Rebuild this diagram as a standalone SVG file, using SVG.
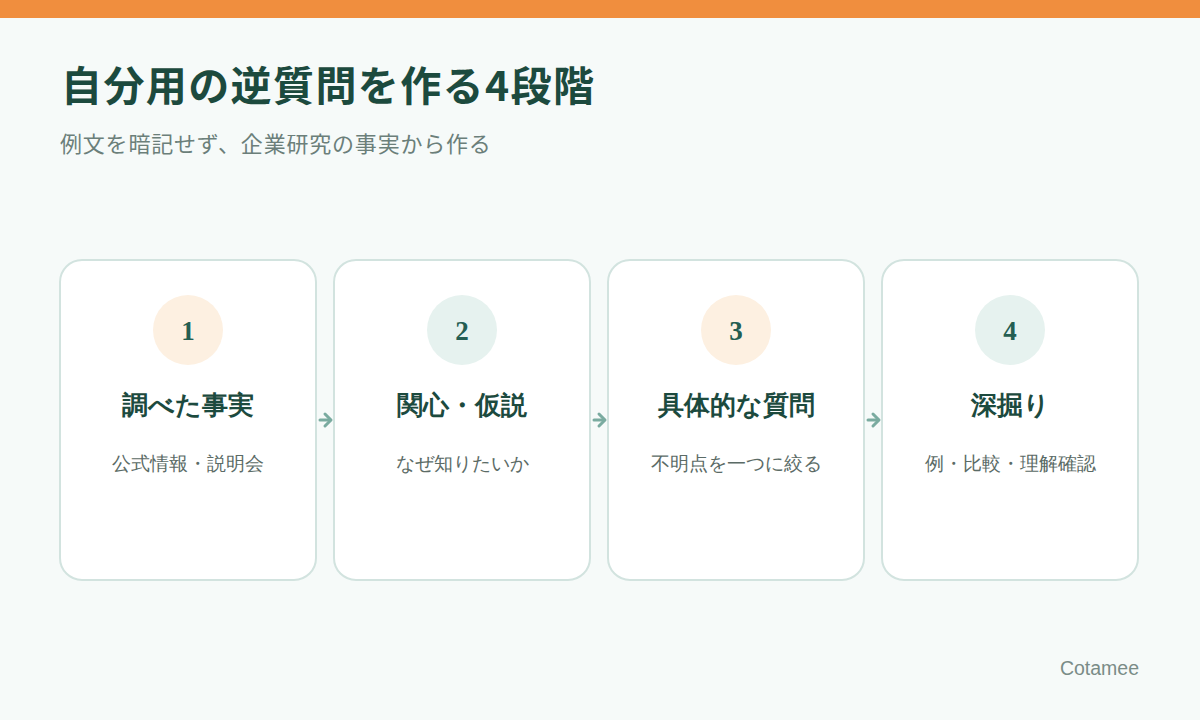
<svg xmlns="http://www.w3.org/2000/svg" width="1200" height="720" viewBox="0 0 1200 720">
<defs>
<style>
.card{fill:#FFFFFF;stroke:#D2E3DF;stroke-width:2}
.num{font-family:"Liberation Serif","Noto Sans CJK JP",serif;font-size:27px;font-weight:bold;fill:#245E52;text-anchor:middle}
.ttl{font-family:"Liberation Serif",serif;font-size:26px;font-weight:bold;fill:#1C4A3E;text-anchor:middle}
.dsc{font-family:"Liberation Serif",serif;font-size:18.5px;fill:#5B6B66;text-anchor:middle}
.arr{fill:none;stroke:#7AABA0;stroke-width:3;stroke-linecap:round;stroke-linejoin:round}
.c1{fill:#FDF0E1}
.c2{fill:#E6F2EF}
</style>
</defs>
<rect x="0" y="0" width="1200" height="720" fill="#F6FAF9"/>
<rect x="0" y="0" width="1200" height="18" fill="#F08E3E"/>
<text x="61" y="101" font-family="'Noto Sans CJK JP',sans-serif" font-size="41" font-weight="bold" letter-spacing="1.4" fill="#1C4A3E">自分用の逆質問を作る4段階</text>
<text x="60" y="152" font-family="'Noto Sans CJK JP',sans-serif" font-size="22" letter-spacing="0.8" fill="#6B7F7A">例文を暗記せず、企業研究の事実から作る</text>

<g id="connectors">
<g class="arr"><path d="M320 420 H330"/><path d="M325 414 L331 420 L325 426"/></g>
<g class="arr"><path d="M594 420 H604"/><path d="M599 414 L605 420 L599 426"/></g>
<g class="arr"><path d="M868 420 H878"/><path d="M873 414 L879 420 L873 426"/></g>
</g>

<g id="step1">
<rect class="card" x="60" y="260" width="256" height="320" rx="22"/>
<circle class="c1" cx="188" cy="330" r="35"/>
<text class="num" x="188" y="340">1</text>
<text class="ttl" x="188" y="414">調べた事実</text>
<text class="dsc" x="188" y="470">公式情報・説明会</text>
</g>
<g id="step2">
<rect class="card" x="334" y="260" width="256" height="320" rx="22"/>
<circle class="c2" cx="462" cy="330" r="35"/>
<text class="num" x="462" y="340">2</text>
<text class="ttl" x="462" y="414">関心・仮説</text>
<text class="dsc" x="462" y="470">なぜ知りたいか</text>
</g>
<g id="step3">
<rect class="card" x="608" y="260" width="256" height="320" rx="22"/>
<circle class="c1" cx="736" cy="330" r="35"/>
<text class="num" x="736" y="340">3</text>
<text class="ttl" x="736" y="414">具体的な質問</text>
<text class="dsc" x="736" y="470">不明点を一つに絞る</text>
</g>
<g id="step4">
<rect class="card" x="882" y="260" width="256" height="320" rx="22"/>
<circle class="c2" cx="1010" cy="330" r="35"/>
<text class="num" x="1010" y="340">4</text>
<text class="ttl" x="1010" y="414">深掘り</text>
<text class="dsc" x="1010" y="470">例・比較・理解確認</text>
</g>
<text x="1139" y="675" text-anchor="end" font-family="'Liberation Sans',sans-serif" font-size="19.5" fill="#7A8C87">Cotamee</text>
</svg>
